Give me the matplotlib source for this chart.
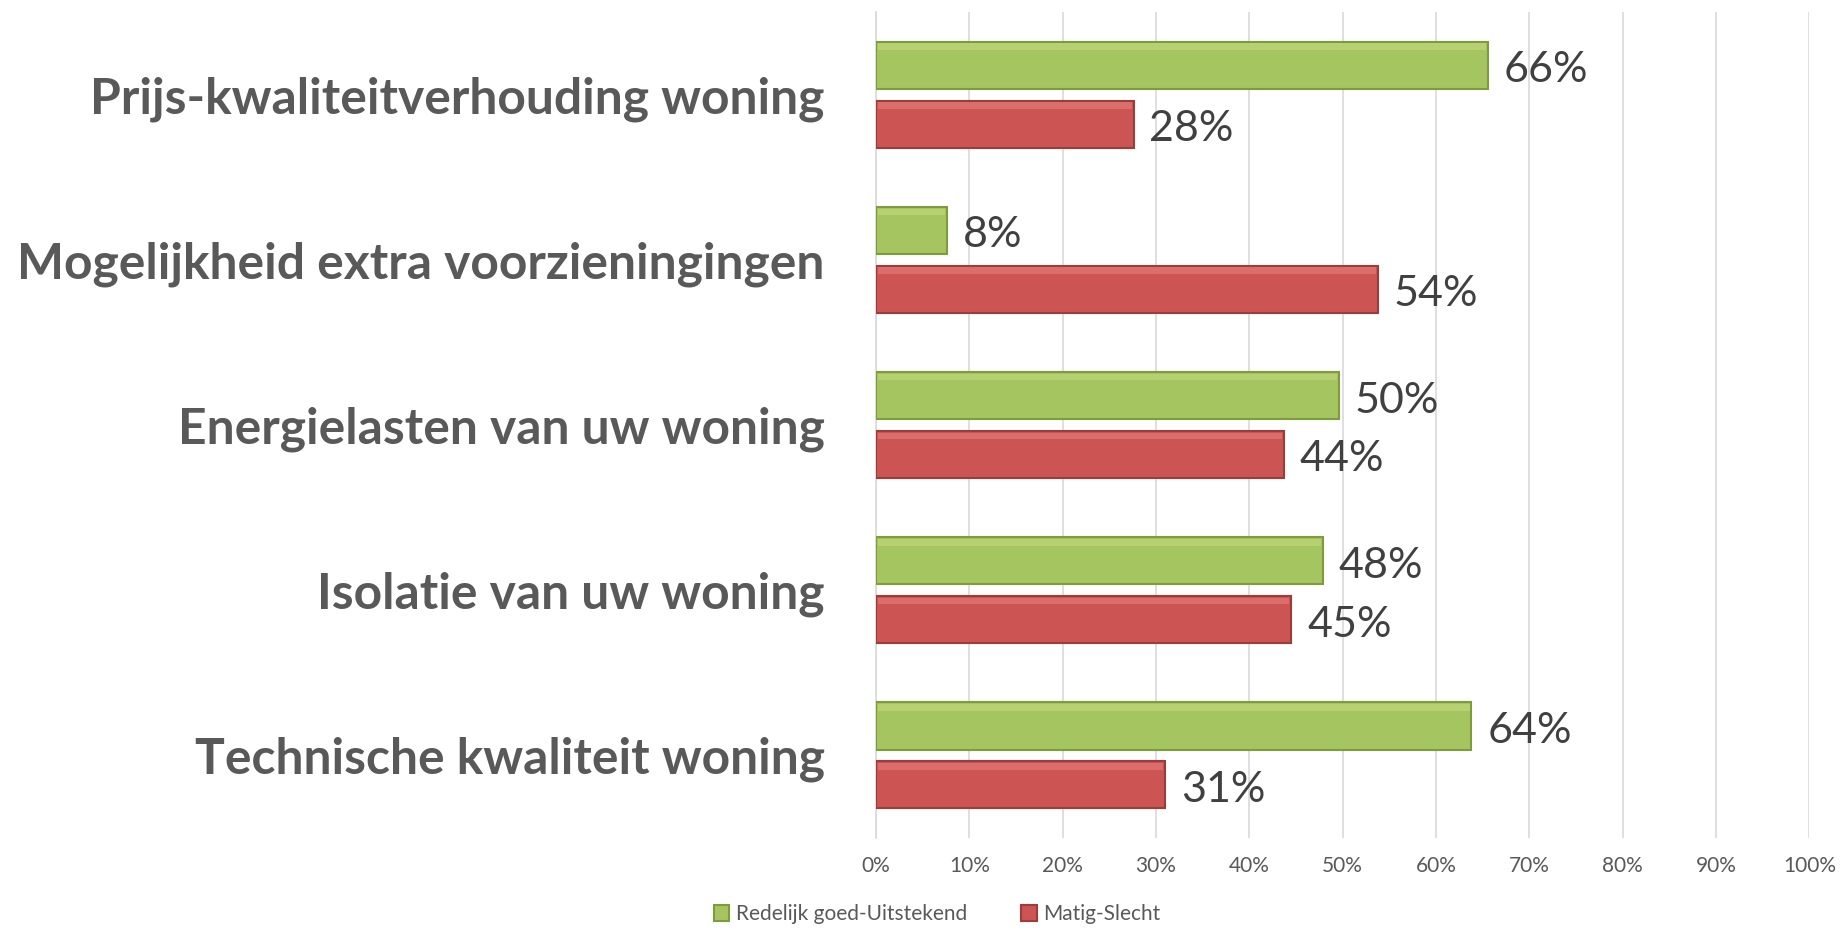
import numpy as np
import matplotlib.pyplot as plt

categories = ["Prijs-kwaliteitverhouding woning",
              "Mogelijkheid extra voorzieningingen",
              "Energielasten van uw woning",
              "Isolatie van uw woning",
              "Technische kwaliteit woning"]
goed = [65.6, 7.6, 49.6, 47.9, 63.8]
slecht = [27.6, 53.8, 43.7, 44.5, 31.0]
goed_labels = ["66%", "8%", "50%", "48%", "64%"]
slecht_labels = ["28%", "54%", "44%", "45%", "31%"]
ticks = list(range(0, 101, 10))

green = "#A5C560"
green_light = "#B6D072"
green_edge = "#7E9C3C"
red = "#CC5553"
red_light = "#DB6D6A"
red_edge = "#9E3C3A"
grey = "#595959"

fig = plt.figure(figsize=(18.41, 9.31), dpi=100)
ax = fig.add_axes([0.4758, 0.0999, 0.507, 0.887])

y = np.arange(len(categories))
h = 0.285
off = 0.178

b1 = ax.barh(y - off, goed, height=h, color=green, edgecolor=green_edge,
             linewidth=1.5, label="Redelijk goed-Uitstekend", zorder=3)
b2 = ax.barh(y + off, slecht, height=h, color=red, edgecolor=red_edge,
             linewidth=1.5, label="Matig-Slecht", zorder=3)
# lichte bovenrand voor het bevel-effect
ax.barh(y - off - h / 2 + 0.03, np.array(goed) - 0.4, height=0.04, left=0.2,
        color=green_light, linewidth=0, zorder=4)
ax.barh(y + off - h / 2 + 0.03, np.array(slecht) - 0.4, height=0.04, left=0.2,
        color=red_light, linewidth=0, zorder=4)

for i in range(len(categories)):
    ax.text(goed[i] + 1.7, y[i] - off + 0.03, goed_labels[i], va="center", ha="left",
            fontsize=31, color="#404040", family="Lato")
    ax.text(slecht[i] + 1.7, y[i] + off + 0.03, slecht_labels[i], va="center", ha="left",
            fontsize=31, color="#404040", family="Lato")

ax.set_xlim(0, 100)
ax.set_ylim(len(categories) - 0.5, -0.5)
ax.set_xticks(ticks)
ax.set_xticklabels([f"{t}%" for t in ticks], fontsize=15, color=grey, family="Lato")
ax.set_yticks(y)
ax.set_yticklabels(categories, fontsize=35.8, fontweight="bold", color=grey, family="Lato")
ax.tick_params(axis="y", length=0, pad=37)
ax.tick_params(axis="x", length=0, pad=13)
ax.grid(axis="x", color="#D9D9D9", linewidth=1.2, zorder=0)
for s in ["top", "right", "bottom"]:
    ax.spines[s].set_visible(False)
ax.spines["left"].set_color("#D9D9D9")
ax.spines["left"].set_linewidth(1.2)

fig.legend(handles=[b1, b2], loc="lower center", bbox_to_anchor=(0.509, -0.013),
           ncol=2, frameon=False, prop={"family": "Lato", "size": 15},
           labelcolor=grey, handlelength=0.75, handleheight=0.75, handletextpad=0.3,
           columnspacing=2.6)

fig.savefig("out.png", dpi=100)
